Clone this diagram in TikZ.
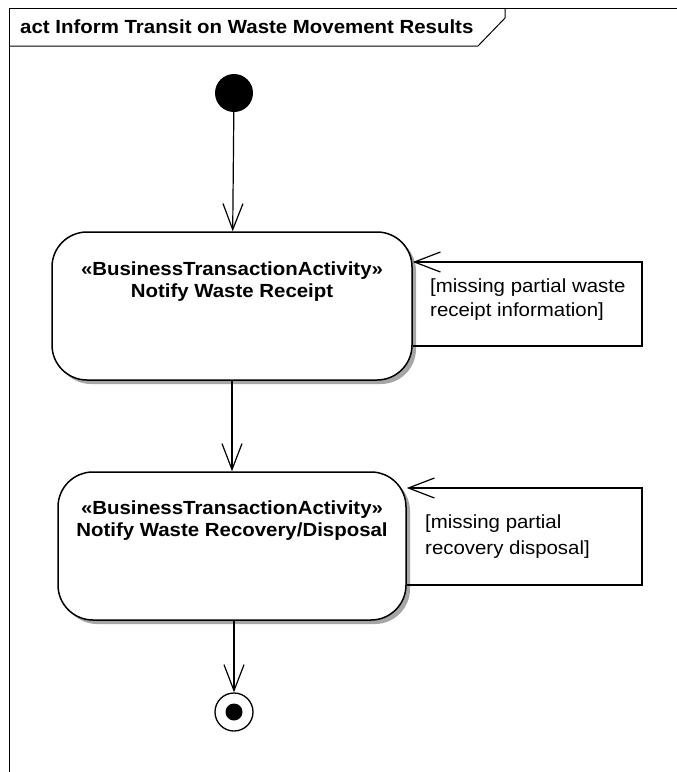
\documentclass[tikz,border=0pt]{standalone}
\usepackage{fontspec}
\setmainfont{Liberation Sans}
\usetikzlibrary{arrows.meta,shadows}
\begin{document}
\begin{tikzpicture}[x=1pt,y=-1pt,
  flow/.style={line width=1.2pt,-{Straight Barb[length=26pt,width=20pt,line width=1.2pt]}},
  actbox/.style={draw,line width=1.5pt,rounded corners=35pt,fill=white,
    drop shadow={shadow xshift=4pt,shadow yshift=-4pt,fill=black!35,opacity=1}},
  boxtext/.style={font=\bfseries,inner sep=0pt,anchor=base},
  guard/.style={inner sep=0pt,anchor=base west},
]
\useasboundingbox (0,0) rectangle (677,772);
\begin{scope}
\clip (0,0) rectangle (677,772);
\draw[line width=1pt] (9,790) -- (9,8) -- (700,8);
\draw[line width=1pt] (9,46) -- (478,46) -- (505,18) -- (505,8);
\end{scope}
\node[anchor=base west,inner sep=0pt] (title) at (20,33)
  {\scalebox{1.075}[1]{\fontsize{19}{22}\selectfont\bfseries act Inform Transit on Waste Movement Results}};

\node[circle,fill=black,minimum size=38pt,inner sep=0pt] (init) at (234,93) {};

\node[actbox,minimum width=360pt,minimum height=148pt,inner sep=0pt] (b1) at (232,306) {};
\node[boxtext] (t1) at (232,275)
  {\scalebox{1.075}[1]{\fontsize{19}{22}\selectfont\bfseries\begin{tabular}[t]{@{}c@{}}«BusinessTransactionActivity»\\Notify Waste Receipt\end{tabular}}};

\node[actbox,minimum width=348pt,minimum height=148pt,inner sep=0pt] (b2) at (232,546) {};
\node[boxtext] (t2) at (232,514)
  {\scalebox{1.075}[1]{\fontsize{19}{22}\selectfont\bfseries\begin{tabular}[t]{@{}c@{}}«BusinessTransactionActivity»\\Notify Waste Recovery/Disposal\end{tabular}}};

\node[circle,draw,line width=1.3pt,minimum size=38pt,inner sep=0pt] (fin) at (234,712) {};
\node[circle,fill=black,minimum size=17pt,inner sep=0pt] (finin) at (fin) {};

\draw[flow] (init) -- (b1);
\draw[flow] (b1) -- (b2);
\draw[flow] (b2.south -| fin) -- (fin);

\coordinate (c1) at (642,262);
\draw[flow] ([yshift=-40pt]b1.east) -| (c1) -- ([yshift=44pt]b1.east);
\node[guard] (g1) at (430,292)
  {\scalebox{1.075}[1]{\fontsize{19}{24}\selectfont\begin{tabular}[t]{@{}l@{}}[missing partial waste\\receipt information]\end{tabular}}};

\coordinate (c2) at (642,488);
\draw[flow] ([yshift=-39pt]b2.east) -| (c2) -- ([yshift=58pt]b2.east);
\node[guard] (g2) at (425,528)
  {\scalebox{1.075}[1]{\fontsize{19}{26}\selectfont\begin{tabular}[t]{@{}l@{}}[missing partial\\recovery disposal]\end{tabular}}};
\end{tikzpicture}
\end{document}
